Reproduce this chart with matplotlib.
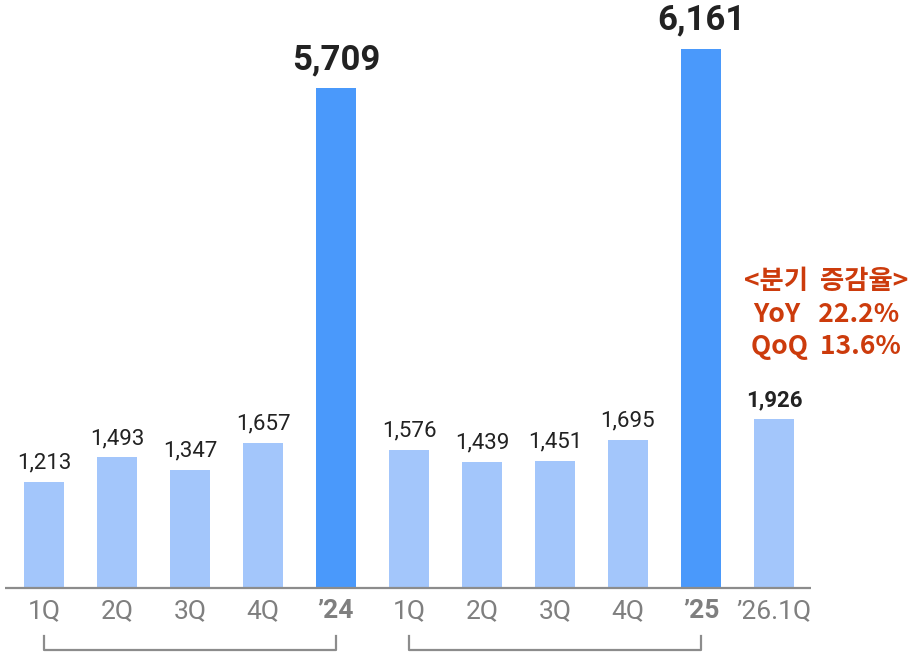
import matplotlib
matplotlib.use("Agg")
import matplotlib.pyplot as plt
import matplotlib.transforms as mtransforms

plt.rcParams['font.family'] = ['Roboto', 'Noto Sans CJK KR', 'DejaVu Sans']

# --- data ---
labels = ["1Q", "2Q", "3Q", "4Q", "\u201924", "1Q", "2Q", "3Q", "4Q", "\u201925", "\u201926.1Q"]
values = [1213, 1493, 1347, 1657, 5709, 1576, 1439, 1451, 1695, 6161, 1926]
is_year = [False, False, False, False, True, False, False, False, False, True, False]
groups = [(0, 4), (5, 9)]   # brackets under each year
note_lines = ["<분기  증감율>", "YoY   22.2%", "QoQ  13.6%"]

light = "#A3C6FB"
dark = "#4A99FB"
gray = "#7F7F7F"
red = "#CC3B0C"
kr = ['Noto Sans CJK KR', 'DejaVu Sans']

fig = plt.figure(figsize=(9.17, 6.52), dpi=100)
ax = fig.add_axes([0.0, 64 / 652, 1.0, 588 / 652])

x = list(range(len(values)))
colors = [dark if y else light for y in is_year]
ax.bar(x, values, width=0.56, color=colors, zorder=2)

# full-figure x range -> pixel 0..917
px_per_unit = 73.0
x0 = 0 - 44 / px_per_unit
ax.set_xlim(x0, x0 + 917 / px_per_unit)
ax.set_ylim(0, 588 / 0.0875)

for s in ax.spines.values():
    s.set_visible(False)
ax.set_yticks([])

# baseline
ax.plot([x0 + 5 / px_per_unit, x0 + 811 / px_per_unit], [0, 0], color="#8C8C8C", lw=1.6,
        clip_on=False, zorder=3, solid_capstyle="butt")

ax.set_xticks(x)
ax.set_xticklabels(labels, fontsize=19, color=gray)
ax.tick_params(axis="x", length=0, pad=8)
for t, y in zip(ax.get_xticklabels(), is_year):
    if y:
        t.set_fontweight("bold")

# value labels
for xi, v, y in zip(x, values, is_year):
    if y:
        ax.annotate(f"{v:,}", (xi, v), xytext=(0, 9), textcoords="offset points",
                    ha="center", va="bottom", fontsize=25, fontweight="bold", color="#222222")
    elif xi == len(values) - 1:
        ax.annotate(f"{v:,}", (xi, v), xytext=(0, 6), textcoords="offset points",
                    ha="center", va="bottom", fontsize=16, fontweight="bold", color="#222222")
    else:
        ax.annotate(f"{v:,}", (xi, v), xytext=(0, 6), textcoords="offset points",
                    ha="center", va="bottom", fontsize=16, color="#222222")

# brackets
trans = mtransforms.blended_transform_factory(ax.transData, ax.transAxes)
ytop, ybot = -48 / 588, -62 / 588
for a, b in groups:
    ax.plot([a, a, b, b], [ytop, ybot, ybot, ytop], transform=trans, color="#8C8C8C",
            lw=1.6, clip_on=False)

# note
for i, line in enumerate(note_lines):
    fig.text(826 / 917, 1 - (282 + 32 * i) / 652, line, ha="center", va="center",
             fontsize=19, fontweight="bold", color=red, family=kr)

fig.savefig("out.png", dpi=100)
